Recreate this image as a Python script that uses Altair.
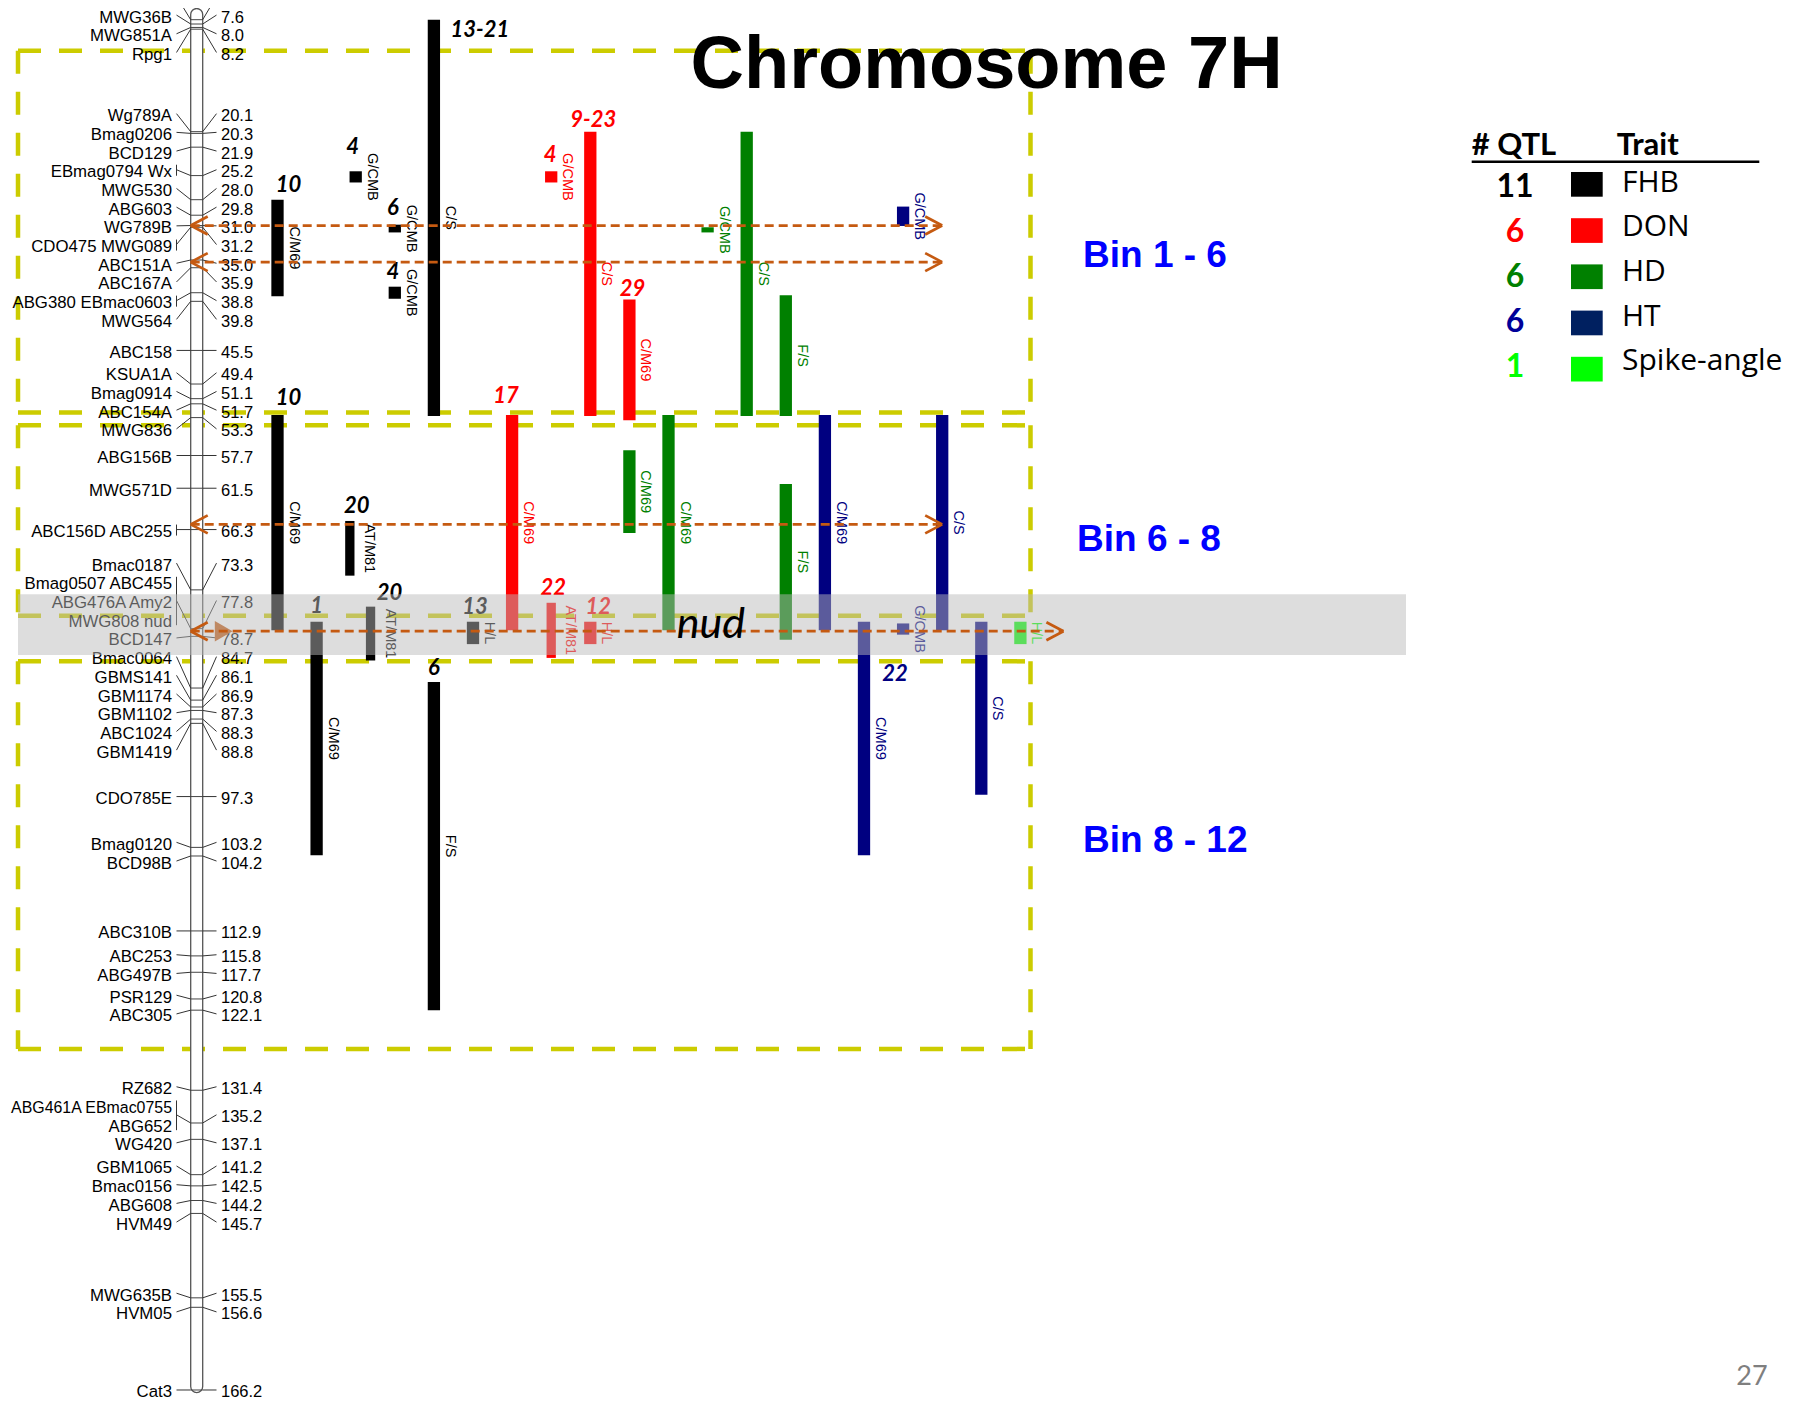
import altair as alt
import pandas as pd
from collections import Counter

# ------------------------------------------------------------------ data
marker_names = [
    "BCD1070 MWG060", "MWG36B", "MWG851A", "Rpg1", "Wg789A", "Bmag0206", "BCD129",
    "EBmag0794 Wx", "MWG530", "ABG603", "WG789B", "CDO475 MWG089", "ABC151A",
    "ABC167A", "ABG380 EBmac0603", "MWG564", "ABC158", "KSUA1A", "Bmag0914",
    "ABC154A", "MWG836", "ABG156B", "MWG571D", "ABC156D ABC255", "Bmac0187",
    "Bmag0507 ABC455|ABG476A Amy2|MWG808 nud", "BCD147", "Bmac0064", "GBMS141",
    "GBM1174", "GBM1102", "ABC1024", "GBM1419", "CDO785E", "Bmag0120", "BCD98B",
    "ABC310B", "ABC253", "ABG497B", "PSR129", "ABC305", "RZ682",
    "ABG461A EBmac0755|ABG652", "WG420", "GBM1065", "Bmac0156", "ABG608", "HVM49",
    "MWG635B", "HVM05", "Cat3",
]
marker_cm = [7.1, 7.6, 8.0, 8.2, 20.1, 20.3, 21.9, 25.2, 28.0, 29.8, 31.0, 31.2, 35.0,
             35.9, 38.8, 39.8, 45.5, 49.4, 51.1, 51.7, 53.3, 57.7, 61.5, 66.3, 73.3,
             77.8, 78.7, 84.7, 86.1, 86.9, 87.3, 88.3, 88.8, 97.3, 103.2, 104.2,
             112.9, 115.8, 117.7, 120.8, 122.1, 131.4, 135.2, 137.1, 141.2, 142.5,
             144.2, 145.7, 155.5, 156.6, 166.2]
chrom_extent = [5.8, 166.5]

traits = ["FHB", "DON", "HD", "HT", "Spike-angle"]
trait_colors = ["#000000", "#FF0000", "#008000", "#000080", "#00FF00"]
legend_swatch = ["#000000", "#FF0000", "#008000", "#002060", "#00FF00"]
legend_num_colors = ["#000000", "#FF0000", "#008000", "#000099", "#00FF00"]

qtl_trait = ["FHB", "FHB", "FHB", "FHB", "FHB", "DON", "DON", "DON", "HD", "HD", "HD", "HT",
             "FHB", "FHB", "DON", "HD", "HD", "HD", "HT", "HT",
             "FHB", "FHB", "FHB", "DON", "DON", "HT", "HT", "HT", "Spike-angle", "FHB"]
qtl_track = [0, 2, 3, 3, 4, 7, 8, 9, 11, 12, 13, 16,
             0, 1.85, 6, 9, 10, 13, 14, 17,
             1, 2.38, 5, 7, 8, 15, 16, 18, 19, 4]
qtl_start = [28.0, 24.7, 30.9, 38.1, 7.1, 24.7, 20.1, 39.6, 31.2, 20.1, 39.1, 28.8,
             53.0, 65.3, 53.0, 57.1, 53.0, 61.0, 53.0, 53.0,
             77.0, 75.25, 77.0, 74.8, 77.0, 77.0, 77.2, 77.0, 77.0, 84.0]
qtl_end = [39.2, 26.0, 31.8, 39.5, 53.1, 26.0, 53.1, 53.6, 31.8, 53.1, 53.1, 31.05,
           78.0, 71.65, 78.0, 66.7, 78.0, 79.1, 78.0, 78.0,
           104.1, 81.5, 79.6, 81.2, 79.6, 104.1, 78.5, 97.1, 79.6, 122.1]
qtl_num = ["10", "4", "6", "4", "13-21", "4", "9-23", "29", "", "", "", "",
           "10", "20", "17", "", "", "", "", "",
           "1", "20", "13", "22", "12", "22", "", "", "", "6"]
qtl_method = ["C/M69", "G/CMB", "G/CMB", "G/CMB", "C/S", "G/CMB", "C/S", "C/M69", "G/CMB", "C/S", "F/S", "G/CMB",
              "C/M69", "AT/M81", "C/M69", "C/M69", "C/M69", "F/S", "C/M69", "C/S",
              "C/M69", "AT/M81", "H/L", "AT/M81", "H/L", "C/M69", "G/CMB", "C/S", "H/L", "F/S"]

bin_names = ["Bin 1 - 6", "Bin 6 - 8", "Bin 8 - 12"]
bin_start = [10.7, 54.2, 81.6]
bin_end = [52.7, 76.3, 126.6]

arrow_cm = [31.0, 35.25, 65.7, 78.1]
arrow_to_track = [17.0, 17.0, 17.0, 20.1]
nud_band_cm = [73.8, 80.85]

# ------------------------------------------------------------------ layout helpers
PAGE = 8
W = 1802
KY = 1385 / (166.55 - 5.742)   # px per cM
Y0 = 5.742
H = 1393                        # plot reaches the bottom of the window
Y1 = Y0 + H / KY
KX = 39.1                       # px per QTL track
TRACK0_PX = 277.5
XD0 = (PAGE - TRACK0_PX) / KX
XD1 = XD0 + W / KX


def tr(px):
    return (px - TRACK0_PX) / KX


def dtr(d):
    return d / KX


def dcm(d):
    return d / KY


XS = alt.Scale(domain=[XD0, XD1], nice=False, zero=False)
YS = alt.Scale(domain=[Y0, Y1], nice=False, zero=False, reverse=True)


def enc(x="x", y="y", x2=None, y2=None, **kw):
    e = dict(x=alt.X(f"{x}:Q", scale=XS, axis=None), y=alt.Y(f"{y}:Q", scale=YS, axis=None))
    if x2:
        e["x2"] = alt.X2(f"{x2}:Q")
    if y2:
        e["y2"] = alt.Y2(f"{y2}:Q")
    e.update(kw)
    return e


def ann(text, x, y, size, color="black", font="Liberation Sans", weight="normal",
        style="normal", align="left", baseline="alphabetic"):
    df = pd.DataFrame({"t": [text], "x": [x - PAGE], "y": [y - PAGE]})
    return alt.Chart(df).mark_text(
        font=font, fontSize=size, fontWeight=weight, fontStyle=style, color=color,
        align=align, baseline=baseline,
    ).encode(x=alt.X("x:Q", scale=None, axis=None), y=alt.Y("y:Q", scale=None, axis=None), text="t:N")


# Arial / Liberation Sans advance widths (1/1000 em) to keep long labels inside the page
AW = dict(zip("ABCDEFGHIJKLMNOPQRSTUVWXYZ",
              [667, 667, 722, 722, 667, 611, 778, 722, 278, 500, 667, 556, 833, 722, 778, 667,
               778, 722, 667, 611, 722, 667, 944, 667, 667, 611]))
AW.update(dict(zip("abcdefghijklmnopqrstuvwxyz",
                   [556, 556, 500, 556, 556, 278, 556, 556, 222, 222, 500, 222, 833, 556, 556, 556,
                    556, 333, 500, 278, 556, 500, 722, 500, 500, 500])))
AW.update({" ": 278, ".": 278})


def arial_em(s):
    return sum(AW.get(ch, 556) for ch in s) / 1000


layers = []

# ------------------------------------------------------------------ bin boxes
bx0, bx1 = tr(18), tr(1030.5)
box_rows = []
for s_, e_ in zip(bin_start, bin_end):
    box_rows += [dict(x=bx0, x2=bx1, y=s_, y2=s_), dict(x=bx0, x2=bx1, y=e_, y2=e_),
                 dict(x=bx0, x2=bx0, y=s_, y2=e_), dict(x=bx1, x2=bx1, y=s_, y2=e_)]
layers.append(alt.Chart(pd.DataFrame(box_rows)).mark_rule(
    color="#CCCC00", strokeWidth=4.5, strokeDash=[23, 18], strokeCap="butt"
).encode(**enc(x2="x2", y2="y2")))

# ------------------------------------------------------------------ chromosome
cx0, cx1 = tr(190.7), tr(202.7)
layers.append(alt.Chart(pd.DataFrame([dict(x=cx0, x2=cx1, y=chrom_extent[0], y2=chrom_extent[1])]))
              .mark_rect(fill="white", stroke="#555555", strokeWidth=1.3, cornerRadius=6)
              .encode(**enc(x2="x2", y2="y2")))
mk = pd.DataFrame(dict(y=marker_cm))
mk["x"], mk["x2"], mk["y2"] = cx0, cx1, mk["y"]
layers.append(alt.Chart(mk).mark_rule(color="#444444", strokeWidth=1).encode(**enc(x2="x2", y2="y2")))

# marker label layout: overlapping labels form clusters centred between their extremes
SP = 18.7
items_n = [len(nm.split("|")) for nm in marker_names]
items_d = [(c - Y0) * KY for c in marker_cm]


def cluster_top(a, b):
    off_first = (items_n[a] - 1) * SP / 2
    off_last = sum(items_n[a:b]) * SP + (items_n[b] - 1) * SP / 2
    return ((items_d[a] - off_first) + (items_d[b] - off_last)) / 2


clusters = []
for i in range(len(items_n)):
    clusters.append([i, i, cluster_top(i, i)])
    while len(clusters) > 1:
        A, B = clusters[-2], clusters[-1]
        nA = sum(items_n[A[0]:A[1] + 1])
        if A[2] + nA * SP > B[2] + 1e-9:
            clusters[-2:] = [[A[0], B[1], cluster_top(A[0], B[1])]]
        else:
            break
item_lines = {}
for a, b, top in clusters:
    k = 0
    for it in range(a, b + 1):
        item_lines[it] = [top + (k + j) * SP for j in range(items_n[it])]
        k += items_n[it]

LBL_X, BRK_X, CON_R, VAL_X = tr(172), tr(176.5), tr(216.5), tr(221)
lab_rows, conn_rows, brk_rows, val_rows = [], [], [], []
for gi, (nm, c) in enumerate(zip(marker_names, marker_cm)):
    ps = item_lines[gi]
    ccm = Y0 + (sum(ps) / len(ps)) / KY
    for t, p in zip(nm.split("|"), ps):
        fs = min(16.8, (172 - PAGE - 2) / arial_em(t))
        lab_rows.append(dict(x=LBL_X, y=Y0 + p / KY, t=t, fs=fs))
    val_rows.append(dict(x=VAL_X, y=ccm, t=f"{c:.1f}"))
    conn_rows.append(dict(x=BRK_X, y=ccm, x2=cx0, y2=c))
    conn_rows.append(dict(x=cx1, y=c, x2=CON_R, y2=ccm))
    if "|" in nm or " " in nm:
        brk_rows.append(dict(x=BRK_X, x2=BRK_X, y=Y0 + (ps[0] - 5) / KY, y2=Y0 + (ps[-1] + 6) / KY))

layers.append(alt.Chart(pd.DataFrame(conn_rows)).mark_rule(color="#333333", strokeWidth=1)
              .encode(**enc(x2="x2", y2="y2")))
layers.append(alt.Chart(pd.DataFrame(brk_rows)).mark_rule(color="#333333", strokeWidth=1)
              .encode(**enc(x2="x2", y2="y2")))
layers.append(alt.Chart(pd.DataFrame(lab_rows)).mark_text(
    align="right", baseline="middle", dy=2.5, font="Liberation Sans", color="black"
).encode(**enc(), text="t:N", size=alt.Size("fs:Q", scale=None)))
layers.append(alt.Chart(pd.DataFrame(val_rows)).mark_text(
    align="left", baseline="middle", dy=2.5, font="Liberation Sans", fontSize=16.5, color="black"
).encode(**enc(), text="t:N"))

# ------------------------------------------------------------------ QTL bars
q = pd.DataFrame(dict(trait=qtl_trait, track=qtl_track, start=qtl_start, end=qtl_end,
                      num=qtl_num, method=qtl_method))
q["w"] = [9.3 if m == "AT/M81" else 12.3 for m in qtl_method]
q["mx"] = [t + dtr(19 if m == "AT/M81" else 16) for t, m in zip(qtl_track, qtl_method)]
q["my"] = (q["start"] + q["end"]) / 2
num_shift = {0: (11, 0), 1: (-3, -9), 2: (-2, -2), 3: (-2, 0), 4: (46, 25), 5: (-1, -1),
             6: (3, 3), 7: (3, 4), 12: (11, -2), 13: (7, 0), 14: (-6, -4), 20: (0, -1),
             21: (19, 1), 24: (8, 0), 25: (31, 67), 29: (0, 1)}
nx, ny = [], []
for i in range(len(q)):
    dx, dy = num_shift.get(i, (2, 0))
    nx.append(qtl_track[i] + dtr(dx))
    ny.append(qtl_start[i] + dcm(-15 + dy))
q["nx"], q["ny"] = nx, ny

color_enc = alt.Color("trait:N", scale=alt.Scale(domain=traits, range=trait_colors), legend=None)
layers.append(alt.Chart(q).mark_rule(strokeCap="butt").encode(
    x=alt.X("track:Q", scale=XS, axis=None), y=alt.Y("start:Q", scale=YS, axis=None),
    y2="end:Q", color=color_enc, strokeWidth=alt.StrokeWidth("w:Q", scale=None)))
layers.append(alt.Chart(q).transform_filter("datum.num != ''").mark_text(
    font="Lato", fontWeight="bold", fontStyle="italic", fontSize=22, align="center", baseline="middle"
).encode(x=alt.X("nx:Q", scale=XS, axis=None), y=alt.Y("ny:Q", scale=YS, axis=None),
         text="num:N", color=color_enc))
layers.append(alt.Chart(q).mark_text(
    font="Liberation Sans", fontSize=14.5, angle=90, align="center", baseline="middle"
).encode(x=alt.X("mx:Q", scale=XS, axis=None), y=alt.Y("my:Q", scale=YS, axis=None),
         text="method:N", color=color_enc))

ORANGE = "#C55A11"
# filled arrowhead beneath the nud band
layers.append(alt.Chart(pd.DataFrame(dict(x=[cx0 + dtr(33)], y=[arrow_cm[3]]))).mark_point(
    shape="triangle-right", filled=True, size=420, color=ORANGE, opacity=1).encode(**enc()))

# ------------------------------------------------------------------ nud band
layers.append(alt.Chart(pd.DataFrame([dict(x=tr(18), x2=tr(1406), y=nud_band_cm[0], y2=nud_band_cm[1])]))
              .mark_rect(color="#B9B9B9", opacity=0.49).encode(**enc(x2="x2", y2="y2")))

# ------------------------------------------------------------------ arrows
hx, hy = dtr(17), dcm(9)
main_rows, chev_rows = [], []
for c, xe in zip(arrow_cm, arrow_to_track):
    main_rows.append(dict(x=cx0, x2=xe, y=c, y2=c))
    for sgn in (-1, 1):
        chev_rows.append(dict(x=cx0, y=c, x2=cx0 + hx, y2=c + sgn * hy))
        chev_rows.append(dict(x=xe, y=c, x2=xe - hx, y2=c + sgn * hy))
layers.append(alt.Chart(pd.DataFrame(main_rows)).mark_rule(
    color=ORANGE, strokeWidth=2.7, strokeDash=[9, 5]).encode(**enc(x2="x2", y2="y2")))
layers.append(alt.Chart(pd.DataFrame(chev_rows)).mark_rule(
    color=ORANGE, strokeWidth=2.7).encode(**enc(x2="x2", y2="y2")))

# ------------------------------------------------------------------ annotations
layers.append(ann("nud", 676.7, 638.3, 43, font="Lato", style="italic"))
layers.append(ann("Chromosome 7H", 986.6, 88, 74, weight="bold", align="center"))
for name, (bxp, byp) in zip(bin_names, [(1083, 266.7), (1077, 551.3), (1083, 851.5)]):
    layers.append(ann(name, bxp, byp, 37, color="#0000FF", weight="bold"))

# legend
layers.append(ann("# QTL", 1471.7, 155, 31, font="Lato", weight="bold"))
layers.append(ann("Trait", 1616.7, 155, 31, font="Lato", weight="bold"))
layers.append(alt.Chart(pd.DataFrame(dict(x=[1471.7 - PAGE], x2=[1759.3 - PAGE], y=[161.7 - PAGE])))
              .mark_rule(color="black", strokeWidth=2.5)
              .encode(x=alt.X("x:Q", scale=None, axis=None), x2="x2:Q", y=alt.Y("y:Q", scale=None, axis=None)))
cnt = Counter(qtl_trait)
sw_rows = []
for i, t in enumerate(traits):
    layers.append(ann(str(cnt[t]), 1515, 197.3 + i * 44.85, 32, font="Lato", weight="bold",
                      color=legend_num_colors[i], align="center"))
    layers.append(ann(t, 1622, 191.7 + i * 44.6, 30, font="Open Sans"))
    top = 172 + i * 46.2
    sw_rows.append(dict(x=1571 - PAGE, x2=1602.7 - PAGE, y=top - PAGE, y2=top + 24.7 - PAGE, c=legend_swatch[i]))
layers.append(alt.Chart(pd.DataFrame(sw_rows)).mark_rect().encode(
    x=alt.X("x:Q", scale=None, axis=None), x2="x2:Q",
    y=alt.Y("y:Q", scale=None, axis=None), y2="y2:Q", color=alt.Color("c:N", scale=None)))

layers.append(ann("27", 1752, 1385, 27, font="Lato", color="#7F7F7F", align="center"))

chart = alt.layer(*layers).properties(width=W, height=H, padding=0, autosize="none").configure_view(stroke=None)
chart.save("out.html", embed_options={"renderer": "svg", "actions": False})
